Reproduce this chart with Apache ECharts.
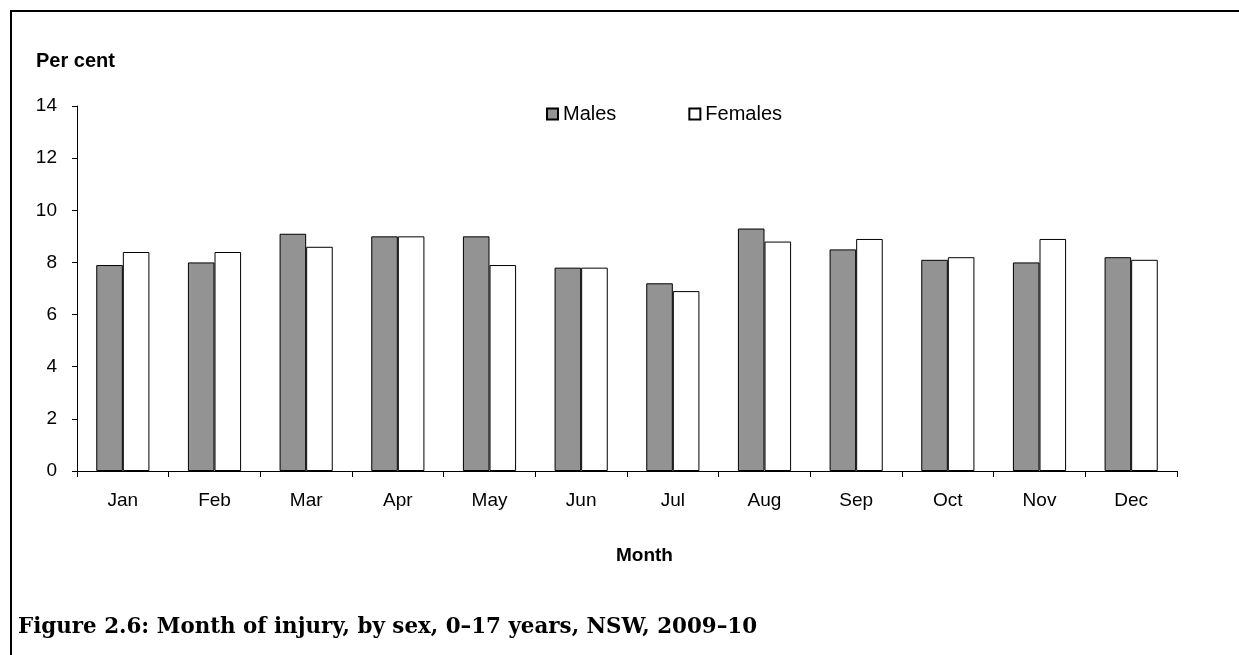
<!DOCTYPE html>
<html>
<head>
<meta charset="utf-8">
<title>Month of injury, by sex</title>
<script src="https://cdn.jsdelivr.net/npm/echarts@6/dist/echarts.min.js"></script>
<style>
  html, body { margin: 0; padding: 0; background: #fff; }
  #chart { width: 1239px; height: 655px; }
</style>
</head>
<body>
<div id="chart"></div>
<script>
  // data
  var months = ['Jan', 'Feb', 'Mar', 'Apr', 'May', 'Jun', 'Jul', 'Aug', 'Sep', 'Oct', 'Nov', 'Dec'];
  var males = [7.9, 8.0, 9.1, 9.0, 9.0, 7.8, 7.2, 9.3, 8.5, 8.1, 8.0, 8.2];
  var females = [8.4, 8.4, 8.6, 9.0, 7.9, 7.8, 6.9, 8.8, 8.9, 8.2, 8.9, 8.1];
  var yTicks = [0, 2, 4, 6, 8, 10, 12, 14];

  var sans = 'Liberation Sans, Arial, sans-serif';
  var myChart = echarts.init(document.getElementById('chart'));

  var option = {
    animation: false,
    backgroundColor: '#fff',
    grid: { left: 77, right: 62, top: 106, bottom: 184 },
    legend: {
      left: 541,
      top: 99,
      itemWidth: 11,
      itemHeight: 11,
      itemGap: 72,
      icon: 'rect',
      selectedMode: false,
      textStyle: { fontFamily: sans, fontSize: 20, color: '#000' },
      data: ['Males', 'Females']
    },
    xAxis: {
      type: 'category',
      data: months,
      axisLine: { lineStyle: { color: '#000', width: 1 } },
      axisTick: { show: true, length: 6, lineStyle: { color: '#000' } },
      axisLabel: { color: '#000', fontFamily: sans, fontSize: 19, margin: 20 },
      splitLine: { show: false }
    },
    yAxis: {
      type: 'value',
      min: yTicks[0],
      max: yTicks[yTicks.length - 1],
      interval: 2,
      axisLine: { show: true, lineStyle: { color: '#000', width: 1 } },
      axisTick: { show: true, length: 5, lineStyle: { color: '#000' } },
      axisLabel: { color: '#000', fontFamily: sans, fontSize: 19, margin: 20 },
      splitLine: { show: false }
    },
    series: [{
      name: 'Males',
      type: 'bar',
      data: males,
      barGap: '0%',
      barCategoryGap: '42%',
      itemStyle: { color: '#939393', borderColor: '#000', borderWidth: 1 }
    }, {
      name: 'Females',
      type: 'bar',
      data: females,
      itemStyle: { color: '#fff', borderColor: '#000', borderWidth: 1 }
    }],
    graphic: [
      // outer frame (top and left edges)
      { type: 'polyline', shape: { points: [[11, 655], [11, 11], [1239, 11]] }, style: { stroke: '#000', lineWidth: 2, fill: null } },
      { type: 'text', left: 36, top: 51, style: { text: 'Per cent', font: 'bold 20px ' + sans, fill: '#000' } },
      { type: 'text', left: 616, top: 546, style: { text: 'Month', font: 'bold 19px ' + sans, fill: '#000' } },
      { type: 'text', left: 18, top: 617, style: { text: 'Figure 2.6: Month of injury, by sex, 0\u201317 years, NSW, 2009\u201310', font: 'bold 21.4px "DejaVu Serif", serif', fill: '#000' } }
    ]
  };
  myChart.setOption(option);
</script>
</body>
</html>
